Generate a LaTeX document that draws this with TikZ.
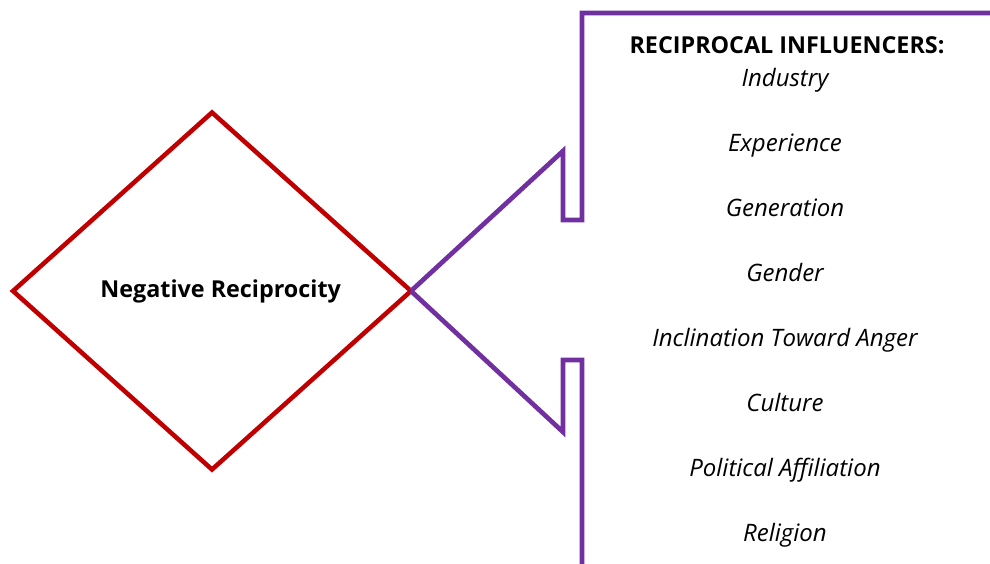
\documentclass[tikz,border=0pt]{standalone}
\usepackage{fontspec}
\setmainfont{Open Sans}
\usepackage{tikz}
\usetikzlibrary{positioning, shapes.geometric}

\definecolor{diared}{RGB}{192,0,0}
\definecolor{callpurple}{RGB}{112,48,160}

\begin{document}
\begin{tikzpicture}[x=0.75pt, y=-0.75pt, node distance=48.75pt, on grid,
    factor/.style={font=\fontsize{18}{20}\selectfont\itshape, inner sep=0pt,
        text height=13pt, text depth=4pt}]

    \useasboundingbox (0,0) rectangle (990,564);

    % Diamond
    \node (neg) at (212,291) [diamond, draw=diared, line width=3.4pt,
        minimum width=398*0.75pt, minimum height=357*0.75pt, inner sep=0pt, outer sep=0pt] {};
    \node (negtext) at ([xshift=6.5pt]neg.center)
        [font=\fontsize{17.5}{20}\selectfont\bfseries] {Negative Reciprocity};

    % Callout outline
    \coordinate (uptip) at (563,151);
    \coordinate (lowtip) at (563,432);
    \draw[callpurple, line width=3.5pt] (neg.east) -- (uptip) -- (563,220) -- (582,220)
        -- (582,13) -- (992,13);
    \draw[callpurple, line width=3.5pt] (neg.east) -- (lowtip) -- (563,360) -- (582,360)
        -- (582,568);

    % Title and list
    \node (title) at (787,45) [font=\fontsize{17.5}{20}\selectfont\bfseries, inner sep=0pt]
        {RECIPROCAL INFLUENCERS:};
    \node [below=26.6pt of title, xshift=-1.5pt] (ind) [factor] {Industry};
    \node [below=of ind] (exp) [factor] {Experience};
    \node [below=of exp] (gen) [factor] {Generation};
    \node [below=of gen] (gend) [factor] {Gender};
    \node [below=of gend] (anger) [factor] {Inclination Toward Anger};
    \node [below=of anger] (cult) [factor] {Culture};
    \node [below=of cult] (pol) [factor] {Political Affiliation};
    \node [below=of pol] (rel) [factor] {Religion};

\end{tikzpicture}
\end{document}
